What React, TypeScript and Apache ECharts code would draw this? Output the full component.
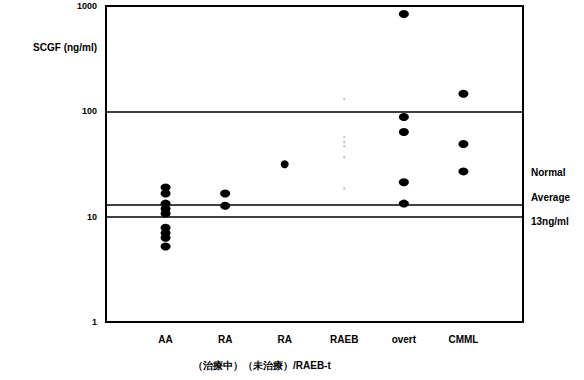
import React, { useEffect, useRef } from "react";
import * as echarts from "echarts";

const categories = ["", "AA", "RA", "RA", "RAEB", "overt", "CMML", ""];
const subLabels = "（治療中）（未治療）/RAEB-t";
const yTicks = [1, 10, 100, 1000];

const aaValues = [18.9, 16.6, 13.3, 11.9, 10.7, 7.85, 7.0, 6.3, 5.2];
const raTreatedValues = [16.6, 12.7];
const raUntreatedValues = [31.5];
const raebValues = [131, 57, 51, 46.7, 36.7, 18.5];
const overtValues = [838, 88.5, 63.7, 21.2, 13.3];
const cmmlValues = [147, 48.9, 26.9];
const normalAverage = 13;

const FONT = "'Liberation Sans', Arial, sans-serif";

export default function App() {
  const ref = useRef<HTMLDivElement>(null);
  useEffect(() => {
    if (!ref.current) return;
    const chart = echarts.init(ref.current, null, { renderer: "svg" });
    const mk = (idx: number, vals: number[]) => vals.map((v) => [idx, v]);
    const mainData = [
      ...mk(1, aaValues),
      ...mk(2, raTreatedValues),
      ...mk(5, overtValues),
      ...mk(6, cmmlValues),
    ];
    chart.setOption({
      animation: false,
      backgroundColor: "#ffffff",
      grid: {
        left: 106,
        right: 61,
        top: 6,
        bottom: 58,
        show: true,
        borderColor: "#000",
        borderWidth: 2,
        backgroundColor: "transparent",
      },
      xAxis: {
        type: "value",
        min: 0,
        max: 7,
        interval: 1,
        splitLine: { show: false },
        axisTick: { show: false },
        axisLine: { show: true, lineStyle: { color: "#000", width: 2 } },
        axisLabel: {
          margin: 12,
          color: "#000",
          fontFamily: FONT,
          fontWeight: "bold",
          fontSize: 10,
          formatter: (v: number) => categories[Math.round(v)] ?? "",
        },
      },
      yAxis: {
        type: "log",
        logBase: 10,
        min: yTicks[0],
        max: yTicks[yTicks.length - 1],
        axisTick: { show: false },
        axisLine: { show: true, lineStyle: { color: "#000", width: 2 } },
        splitLine: { show: true, lineStyle: { color: "#000", width: 1.5 } },
        axisLabel: {
          margin: 9,
          color: "#000",
          fontFamily: FONT,
          fontWeight: "bold",
          fontSize: 9,
          formatter: (v: number) => String(Math.round(v)),
        },
      },
      series: [
        {
          type: "scatter",
          data: mainData,
          symbol: "circle",
          symbolSize: [10, 8],
          itemStyle: { color: "#000", opacity: 1 },
          markLine: {
            silent: true,
            symbol: "none",
            label: { show: false },
            lineStyle: { color: "#000", width: 1.5, type: "solid" },
            data: [{ yAxis: normalAverage }],
          },
        },
        {
          type: "scatter",
          data: mk(3, raUntreatedValues),
          symbol: "circle",
          symbolSize: 8,
          itemStyle: { color: "#000", opacity: 1 },
        },
        {
          type: "scatter",
          data: mk(4, raebValues),
          symbol: "circle",
          symbolSize: 2.5,
          itemStyle: { color: "#c8c8c8", opacity: 1 },
        },
      ],
      graphic: [
        {
          type: "text",
          right: 584 - 97,
          top: 42,
          style: {
            text: "SCGF (ng/ml)",
            fill: "#000",
            font: `bold 10px ${FONT}`,
          },
        },
        {
          type: "text",
          left: 193,
          top: 360,
          style: {
            text: subLabels,
            fill: "#000",
            font: `bold 10px ${FONT}`,
          },
        },
        {
          type: "text",
          left: 531,
          top: 167,
          style: { text: "Normal", fill: "#000", font: `bold 10px ${FONT}` },
        },
        {
          type: "text",
          left: 531,
          top: 192,
          style: { text: "Average", fill: "#000", font: `bold 10px ${FONT}` },
        },
        {
          type: "text",
          left: 531,
          top: 216,
          style: { text: "13ng/ml", fill: "#000", font: `bold 10px ${FONT}` },
        },
      ],
    });
    return () => chart.dispose();
  }, []);
  return (
    <div
      ref={ref}
      style={{ position: "absolute", left: 0, top: 0, width: 584, height: 380 }}
    />
  );
}
